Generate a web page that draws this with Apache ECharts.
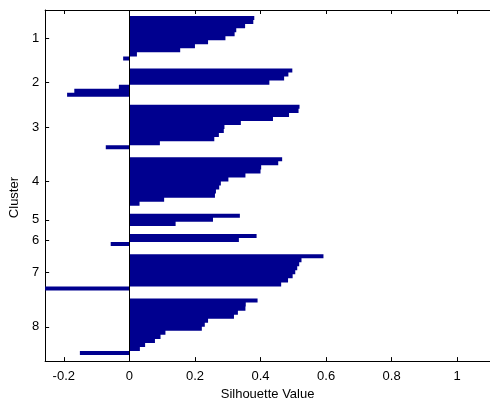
<!DOCTYPE html>
<html>
<head>
<meta charset="utf-8">
<script src="https://cdn.jsdelivr.net/npm/echarts@6/dist/echarts.min.js"></script>
<style>
  html, body { margin: 0; padding: 0; background: #fff; }
  #chart { width: 490px; height: 406px; }
</style>
</head>
<body>
<div id="chart"></div>
<script>
// Silhouette values per cluster (sorted descending, as in MATLAB's silhouette plot)
const cluster1 = [0.381, 0.378, 0.353, 0.326, 0.321, 0.293, 0.240, 0.200, 0.155, 0.023, -0.019];
const cluster2 = [0.497, 0.485, 0.472, 0.427, -0.032, -0.168, -0.190];
const cluster3 = [0.519, 0.516, 0.487, 0.438, 0.340, 0.290, 0.288, 0.273, 0.259, 0.093, -0.072];
const cluster4 = [0.466, 0.454, 0.402, 0.400, 0.354, 0.302, 0.279, 0.274, 0.264, 0.261, 0.106, 0.031];
const cluster5 = [0.337, 0.255, 0.141];
const cluster6 = [0.388, 0.334, -0.057];
const cluster7 = [0.592, 0.525, 0.518, 0.512, 0.506, 0.498, 0.484, 0.463, -0.257];
const cluster8 = [0.391, 0.355, 0.354, 0.331, 0.319, 0.240, 0.230, 0.221, 0.110, 0.095, 0.078, 0.048, 0.032, -0.151];

const clusterNames = ['1', '2', '3', '4', '5', '6', '7', '8'];
const xTicks = [-0.2, 0, 0.2, 0.4, 0.6, 0.8, 1];
const xMin = -0.257;
const xMax = 1.1;
const space = 2;

const clusters = [cluster1, cluster2, cluster3, cluster4, cluster5, cluster6, cluster7, cluster8];

// Build bar list with empty spacers, like MATLAB's silhouette()
const bars = [];
for (let i = 0; i < space; i++) bars.push('-');
const tickPos = [];
clusters.forEach(function (c) {
  const start = bars.length + 1;
  c.forEach(function (v) { bars.push(v); });
  const end = bars.length;
  tickPos.push((start + end) / 2);
  for (let i = 0; i < space; i++) bars.push('-');
});
const L = bars.length;
const positions = bars.map(function (_, i) { return String(i + 1); });

const font = 'Liberation Sans, Arial, Helvetica, sans-serif';
const barColor = '#00008f';

const chart = echarts.init(document.getElementById('chart'), null, { renderer: 'canvas' });
chart.setOption({
  animation: false,
  backgroundColor: '#fff',
  grid: { left: 44, right: -5, top: 10, bottom: 40, containLabel: false },
  xAxis: [
    {
      type: 'value', position: 'bottom', min: xMin, max: xMax,
      name: 'Silhouette Value', nameLocation: 'middle', nameGap: 24,
      nameTextStyle: { color: '#000', fontSize: 13, fontFamily: font },
      axisLine: { show: true, onZero: false, lineStyle: { color: '#000', width: 1 } },
      axisTick: { show: true, inside: true, length: 4, customValues: xTicks, lineStyle: { color: '#000' } },
      axisLabel: { show: true, customValues: xTicks, margin: 9, color: '#000', fontSize: 13, fontFamily: font,
        formatter: function (v) { return String(Math.round(v * 10) / 10); } },
      splitLine: { show: false }
    },
    {
      type: 'value', position: 'top', min: xMin, max: xMax,
      axisLine: { show: true, onZero: false, lineStyle: { color: '#000', width: 1 } },
      axisTick: { show: true, inside: true, length: 4, customValues: xTicks, lineStyle: { color: '#000' } },
      axisLabel: { show: false },
      splitLine: { show: false }
    }
  ],
  yAxis: [
    {
      type: 'category', data: positions, inverse: true, boundaryGap: false, show: false
    },
    {
      type: 'value', position: 'left', min: 1, max: L, inverse: true,
      name: 'Cluster', nameLocation: 'middle', nameGap: 18,
      nameTextStyle: { color: '#000', fontSize: 13, fontFamily: font, padding: [0, 24, 0, 0] },
      axisLine: { show: true, onZero: false, lineStyle: { color: '#000', width: 1 } },
      axisTick: { show: true, inside: true, length: 4, customValues: tickPos, lineStyle: { color: '#000' } },
      axisLabel: { show: true, customValues: tickPos, margin: 6, color: '#000', fontSize: 13, fontFamily: font,
        formatter: function (v) {
          const idx = tickPos.indexOf(v);
          return idx >= 0 ? clusterNames[idx] : '';
        } },
      splitLine: { show: false }
    }
  ],
  series: [
    {
      type: 'bar', xAxisIndex: 0, yAxisIndex: 0,
      data: bars,
      large: true, largeThreshold: 1,
      barCategoryGap: '0%',
      itemStyle: { color: barColor },
      silent: true,
      markLine: {
        silent: true, symbol: 'none',
        label: { show: false },
        lineStyle: { color: '#000', width: 1, type: 'solid' },
        data: [{ xAxis: 0 }]
      }
    }
  ]
});
</script>
</body>
</html>
